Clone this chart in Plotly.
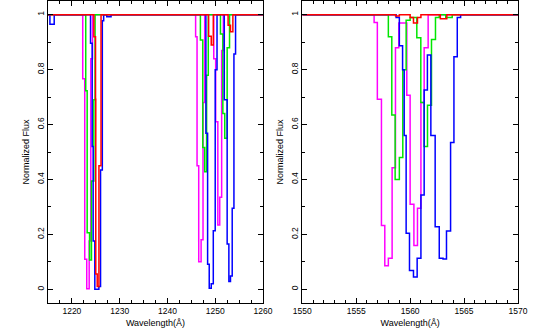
import plotly.graph_objects as go
from plotly.subplots import make_subplots

# left panel (Lyman alpha / NV region), step starts in Angstrom and normalized flux
left_wave_magenta = [1215.0, 1222.27, 1222.69, 1223.11, 1223.62, 1223.96, 1224.32,
                     1245.9, 1246.2, 1246.55, 1247.05, 1247.45, 1247.8,
                     1249.7, 1250.1, 1250.55, 1250.95, 1251.35, 1251.7, 1260.0]
left_flux_magenta = [1.0, 0.767, 0.109, 0.002, 0.176, 0.84, 1.0,
                     0.92, 0.45, 0.10, 0.18, 0.68, 1.0,
                     0.84, 0.61, 0.234, 0.335, 0.87, 1.0, 1.0]

left_wave_green = [1215.0, 1222.9, 1223.2, 1223.7, 1224.1, 1224.6, 1224.85,
                   1246.9, 1247.4, 1247.8, 1248.2, 1248.55,
                   1251.1, 1251.6, 1252.0, 1252.5, 1253.0, 1260.0]
left_flux_green = [1.0, 0.723, 0.206, 0.107, 0.394, 0.69, 1.0,
                   0.908, 0.516, 0.428, 0.78, 1.0,
                   0.93, 0.64, 0.55, 0.88, 1.0, 1.0]

left_wave_blue = [1215.0, 1215.4, 1216.3, 1223.9, 1224.25, 1224.45, 1224.8, 1225.65,
                  1226.0, 1226.37, 1226.65, 1227.3, 1228.2,
                  1248.05, 1248.41, 1248.75, 1249.17, 1249.6, 1250.0, 1250.38,
                  1251.9, 1252.5, 1252.86, 1253.2, 1253.56, 1253.92, 1254.26, 1260.0]
left_flux_blue = [1.0, 0.965, 1.0, 0.896, 0.52, 0.176, 0.0, 0.01,
                  0.434, 0.978, 1.0, 0.993, 1.0,
                  0.568, 0.091, 0.004, 0.02, 0.213, 0.80, 1.0,
                  0.69, 0.165, 0.028, 0.048, 0.295, 0.857, 1.0, 1.0]

left_wave_red = [1215.0, 1224.6, 1224.95, 1225.0, 1225.3, 1225.66, 1226.1,
                 1248.62, 1249.17, 1249.6, 1252.7, 1253.2, 1253.7, 1260.0]
left_flux_red = [1.0, 0.92, 0.692, 0.056, 0.01, 0.45, 1.0,
                 0.922, 0.89, 1.0, 0.962, 0.938, 1.0, 1.0]

# right panel (CIV region)
right_wave_magenta = [1550.0, 1556.66, 1556.96, 1557.34, 1557.65, 1557.98, 1558.33,
                      1558.64, 1558.95, 1559.69, 1560.0, 1560.35, 1560.68, 1561.0,
                      1561.3, 1561.67, 1570.0]
right_flux_magenta = [1.0, 0.972, 0.692, 0.232, 0.086, 0.113, 0.443,
                      0.88, 0.97, 0.707, 0.31, 0.159, 0.295, 0.68,
                      0.88, 1.0, 1.0]

right_wave_green = [1550.0, 1557.98, 1558.30, 1558.61, 1559.0, 1559.32, 1559.63,
                    1560.0, 1560.62, 1560.99, 1561.3, 1561.61, 1561.98, 1562.35,
                    1562.7, 1563.3, 1563.9, 1570.0]
right_flux_green = [1.0, 0.92, 0.635, 0.40, 0.48, 0.80, 0.98,
                    0.99, 0.916, 0.68, 0.52, 0.67, 0.91, 0.99,
                    1.0, 0.99, 1.0, 1.0]

right_wave_blue = [1550.0, 1558.70, 1559.0, 1559.3, 1559.45, 1559.63, 1559.94,
                   1560.31, 1560.65, 1561.0, 1561.3, 1561.6, 1561.92, 1562.32,
                   1562.7, 1563.05, 1563.37, 1563.75, 1564.06, 1564.37, 1564.68, 1570.0]
right_flux_blue = [1.0, 0.99, 0.887, 0.80, 0.56, 0.204, 0.068,
                   0.045, 0.113, 0.343, 0.726, 0.853, 0.56, 0.228,
                   0.113, 0.11, 0.212, 0.535, 0.847, 0.99, 1.0, 1.0]

right_wave_red = [1550.0, 1558.65, 1559.0, 1560.0, 1560.31, 1560.68, 1561.0,
                  1562.8, 1563.4, 1570.0]
right_flux_red = [1.0, 0.995, 1.0, 0.99, 0.97, 0.99, 1.0,
                  0.985, 1.0, 1.0]

colors = {'magenta': '#ff00ff', 'green': '#00e600', 'blue': '#0000ff', 'red': '#ff0000'}

fig = make_subplots(rows=1, cols=2)

panels = [
    (1, [('magenta', left_wave_magenta, left_flux_magenta),
         ('green', left_wave_green, left_flux_green),
         ('blue', left_wave_blue, left_flux_blue),
         ('red', left_wave_red, left_flux_red)]),
    (2, [('magenta', right_wave_magenta, right_flux_magenta),
         ('green', right_wave_green, right_flux_green),
         ('blue', right_wave_blue, right_flux_blue),
         ('red', right_wave_red, right_flux_red)]),
]
for col, series in panels:
    for name, wave, flux in series:
        fig.add_trace(go.Scatter(x=wave, y=flux, mode='lines', line_shape='hv',
                                 line=dict(color=colors[name], width=1.5),
                                 showlegend=False, hoverinfo='skip'),
                      row=1, col=col)

axis_common = dict(showline=True, linecolor='black', linewidth=1, mirror='allticks',
                   ticks='inside', ticklen=5, tickcolor='black', showgrid=False,
                   zeroline=False, tickfont=dict(size=8.5, color='black'))

fig.update_xaxes(axis_common)
fig.update_yaxes(axis_common)

fig.update_xaxes(range=[1215, 1260], tick0=1220, dtick=10,
                 minor=dict(dtick=2.5, ticklen=3, ticks='inside', tickcolor='black'),
                 title=dict(text='Wavelength(Å)', font=dict(size=9), standoff=4),
                 domain=[0.0, 0.4574], row=1, col=1)
fig.update_xaxes(range=[1550, 1570], tick0=1550, dtick=5,
                 minor=dict(dtick=1, ticklen=3, ticks='inside', tickcolor='black'),
                 title=dict(text='Wavelength(Å)', font=dict(size=9), standoff=4),
                 domain=[0.541, 1.0], row=1, col=2)
fig.update_yaxes(range=[-0.05, 1.05], tick0=0, dtick=0.2, tickangle=-90,
                 minor=dict(dtick=0.1, ticklen=3, ticks='inside', tickcolor='black'),
                 title=dict(text='Normalized Flux', font=dict(size=9), standoff=4))

fig.update_layout(
    width=538, height=332,
    margin=dict(l=48, r=20, t=1, b=29),
    paper_bgcolor='white', plot_bgcolor='white',
    font=dict(family='Liberation Sans, Arial, sans-serif', color='black'),
)

# drop the browser's default body margin so the figure sits at the page corner
fig.write_html("out.html", config={'displayModeBar': False},
               post_script="document.body.style.margin='0';")
